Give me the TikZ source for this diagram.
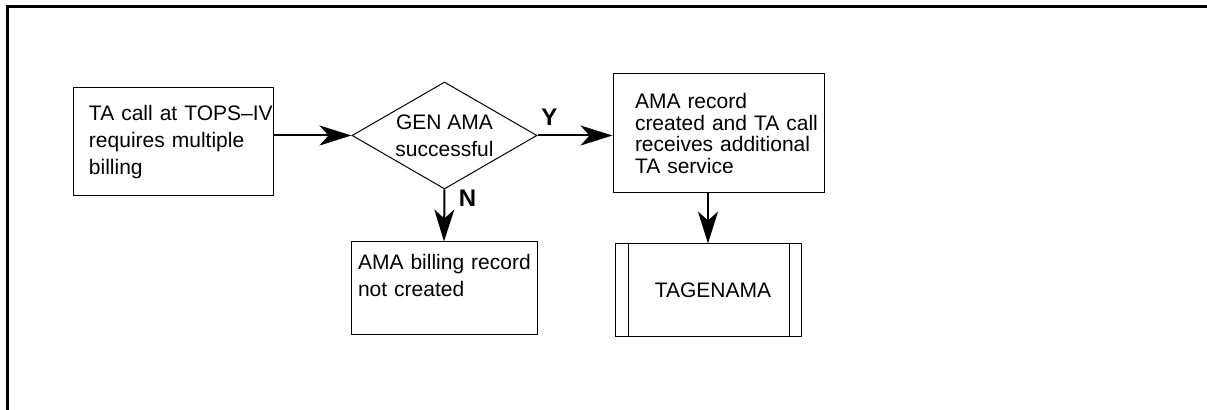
\documentclass[tikz,border=0pt]{standalone}
\usepackage{fontspec}
\setmainfont{Liberation Sans}
\usetikzlibrary{positioning,arrows.meta,shapes.geometric}
\tikzset{
  box/.style={draw=black,line width=0.5pt,align=left,inner ysep=0pt,
              font=\fontsize{10.5}{13.3}\selectfont},
  dec/.style={draw=black,diamond,aspect=1.73,line width=0.5pt,inner sep=0pt,align=center,
              minimum width=92.5pt,minimum height=53.5pt,font=\fontsize{10.5}{13.5}\selectfont},
  yn/.style={font=\fontsize{12}{14}\selectfont\bfseries,inner sep=0pt},
  arr/.style={-{Stealth[length=16pt,width=10pt,inset=4.5pt]},line width=1pt},
  frame/.style={line width=1.5pt}
}

\begin{document}
\begin{tikzpicture}[x=0.5pt,y=-0.5pt]
  \useasboundingbox (0,0) rectangle (1207,410);
  \draw[frame] (1207,7) -- (7,7) -- (7,410);
  % steps
  \node[box,minimum width=100pt,minimum height=54pt,text width=84pt,inner xsep=8pt] (start) at (173,142)
    {\mbox{TA call at TOPS–IV}\\requires multiple\\billing};
  \node[dec] (gen) at (444.5,135.5) {GEN AMA\\successful};
  \node[box,minimum width=105.5pt,minimum height=59.5pt,text width=83.5pt,inner xsep=11pt,
        font=\fontsize{10.5}{10.9}\selectfont] (made) at (718.5,133.5)
    {AMA record\\\mbox{created and TA call}\\\mbox{receives additional}\\TA service};
  \node[box,minimum width=93pt,minimum height=46.5pt,text width=86pt,inner xsep=3.5pt] (none) at (444,288.5)
    {\mbox{AMA billing record}\\not created\\\mbox{}};
  \node[box,align=center,minimum width=93pt,minimum height=46.5pt] (tag) at (708,290.5) {\hspace*{5pt}TAGENAMA};
  \draw[line width=0.5pt] ([xshift=7pt]tag.north west) -- ([xshift=7pt]tag.south west);
  \draw[line width=0.5pt] ([xshift=-6pt]tag.north east) -- ([xshift=-6pt]tag.south east);
  % flow
  \draw[arr] (gen.west -| start.east) -- (gen.west);
  \draw[arr] (gen.east) -- (gen.east -| made.west);
  \draw[arr] (gen.south) -- (none.north);
  \draw[arr] (made.south -| tag.north) -- (tag.north);
  \node[yn] (yes) at ([shift={(12,-18)}]gen.east) {Y};
  \node[yn] (no) at ([shift={(23,9)}]gen.south) {N};
\end{tikzpicture}
\end{document}
